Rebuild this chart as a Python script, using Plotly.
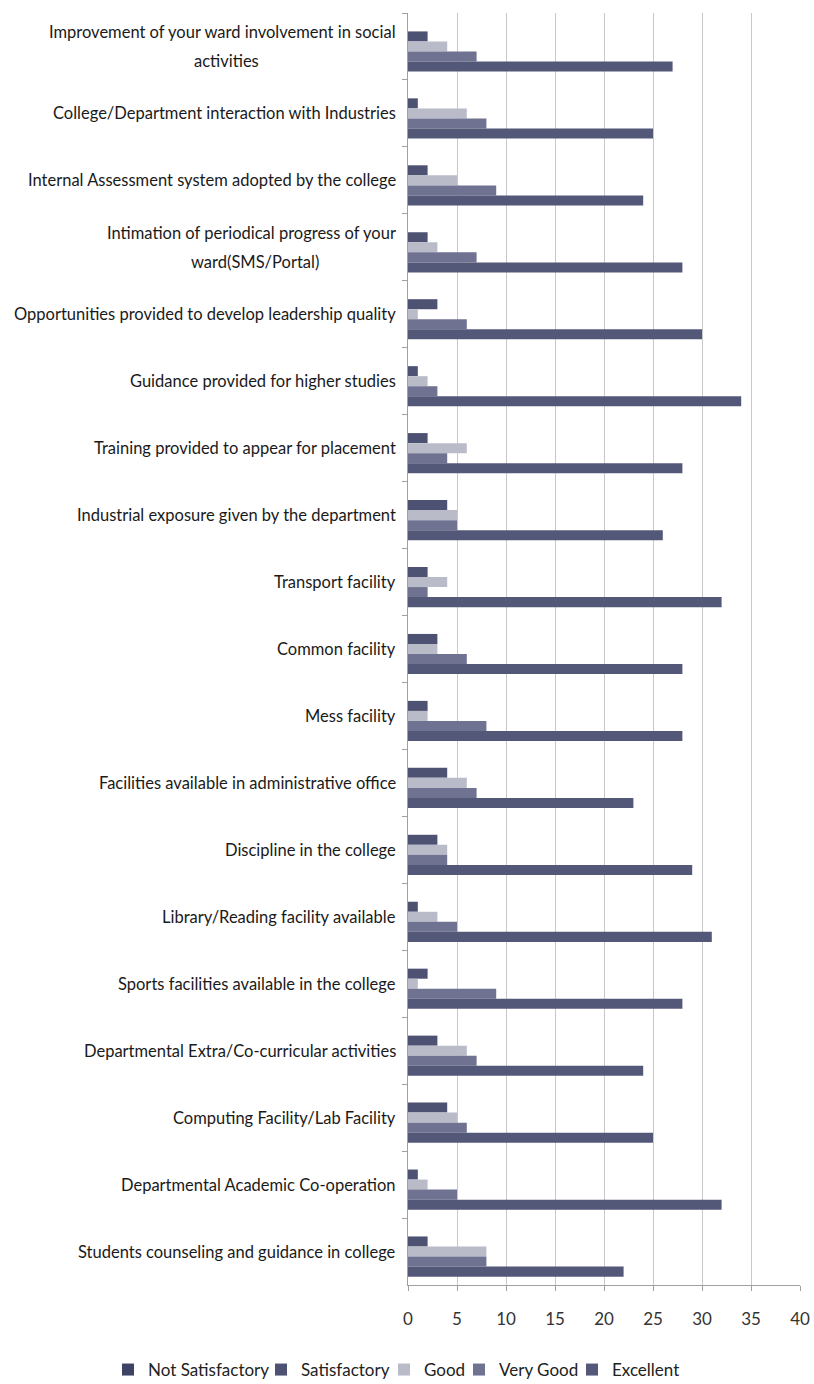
import plotly.graph_objects as go

categories = [
    "Improvement of your ward involvement in social<br>activities",
    "College/Department interaction with Industries",
    "Internal Assessment system adopted by the college",
    "Intimation of periodical progress of your<br>ward(SMS/Portal)",
    "Opportunities provided to develop leadership quality",
    "Guidance provided for higher studies",
    "Training provided to appear for placement",
    "Industrial exposure given by the department",
    "Transport facility",
    "Common facility",
    "Mess facility",
    "Facilities available in administrative office",
    "Discipline in the college",
    "Library/Reading facility available",
    "Sports facilities available in the college",
    "Departmental Extra/Co-curricular activities",
    "Computing Facility/Lab Facility",
    "Departmental Academic Co-operation",
    "Students counseling and guidance in college",
]

not_satisfactory = [0, 0, 0, 0, 0, 0, 0, 0, 0, 0, 0, 0, 0, 0, 0, 0, 0, 0, 0]
satisfactory     = [2, 1, 2, 2, 3, 1, 2, 4, 2, 3, 2, 4, 3, 1, 2, 3, 4, 1, 2]
good             = [4, 6, 5, 3, 1, 2, 6, 5, 4, 3, 2, 6, 4, 3, 1, 6, 5, 2, 8]
very_good        = [7, 8, 9, 7, 6, 3, 4, 5, 2, 6, 8, 7, 4, 5, 9, 7, 6, 5, 8]
excellent        = [27, 25, 24, 28, 30, 34, 28, 26, 32, 28, 28, 23, 29, 31, 28, 24, 25, 32, 22]

series_names = ["Not Satisfactory", "Satisfactory", "Good", "Very Good", "Excellent"]
series_values = [not_satisfactory, satisfactory, good, very_good, excellent]
series_colors = ["#3e4264", "#4d5172", "#b9bbc9", "#6f7290", "#545878"]

x_ticks = [0, 5, 10, 15, 20, 25, 30, 35, 40]

FONT = "Lato, Liberation Sans, sans-serif"
LABEL_SIZE = 16.5
LINE_GAP = 29

W, H = 814, 1384
ML, MR, MT, MB = 408, 14, 13, 99
plot_w = W - ML - MR
plot_h = H - MT - MB

fig = go.Figure()
legend_ids = ["legend", "legend2", "legend3", "legend4", "legend5"]
for name, vals, col, lid in zip(series_names, series_values, series_colors, legend_ids):
    fig.add_trace(go.Bar(
        y=categories, x=vals, name=name, orientation="h", legend=lid,
        marker=dict(color=col, line=dict(width=0)),
    ))

# category labels: wrapped lines, first line right-aligned to the axis,
# continuation lines centred under the first line (Excel style)
wrap_centre_shift = {0: -182, 3: -153}
for i, cat in enumerate(categories):
    lines = cat.split("<br>")
    n = len(lines)
    for j, line in enumerate(lines):
        ys = ((n - 1) / 2 - j) * LINE_GAP
        if j == 0:
            fig.add_annotation(
                x=0, xref="paper", y=cat, yref="y", text=line, showarrow=False,
                xanchor="right", yanchor="middle", xshift=-10, yshift=ys,
                font=dict(family=FONT, size=LABEL_SIZE, color="#1a1a1a"),
            )
        else:
            fig.add_annotation(
                x=0, xref="paper", y=cat, yref="y", text=line, showarrow=False,
                xanchor="center", yanchor="middle", xshift=wrap_centre_shift[i], yshift=ys,
                font=dict(family=FONT, size=LABEL_SIZE, color="#1a1a1a"),
            )

# one legend per series so each entry sits where the reference has it
legend_text_start_px = [153, 306, 429, 504, 617]
legend_y_px = 1370
legends = {}
for lid, tx in zip(legend_ids, legend_text_start_px):
    legends[lid] = dict(
        orientation="h", x=(tx - 45 - ML) / plot_w, xanchor="left",
        y=(MT + plot_h - legend_y_px) / plot_h, yanchor="middle",
        font=dict(family=FONT, size=17, color="#222"), itemwidth=30,
        bgcolor="rgba(0,0,0,0)",
    )

fig.update_layout(
    width=W, height=H,
    margin=dict(l=ML, r=MR, t=MT, b=MB, autoexpand=False),
    paper_bgcolor="white", plot_bgcolor="white",
    barmode="group", bargap=0.25, bargroupgap=0,
    font=dict(family=FONT, size=17, color="#222222"),
    showlegend=True,
    **legends,
)
fig.update_xaxes(
    range=[0, 40], tickvals=x_ticks, showgrid=True, gridcolor="#c8c8c8", gridwidth=1,
    zeroline=False, showline=True, linecolor="#a0a0a0", ticks="outside", ticklen=5,
    tickcolor="#a0a0a0", tickfont=dict(size=17, color="#333"), ticklabelstandoff=14,
)
fig.update_yaxes(
    type="category", categoryorder="array", categoryarray=categories,
    range=[len(categories) - 0.5, -0.5], showticklabels=False, showline=True,
    linecolor="#a0a0a0", ticks="outside", ticklen=5, tickcolor="#a0a0a0",
    tickson="boundaries", showgrid=False,
)

fig.write_html(
    "out.html",
    config={"displayModeBar": False},
    post_script=(
        "document.body.style.margin='0';"
        "document.body.style.overflow='hidden';"
        "document.documentElement.style.overflow='hidden';"
    ),
)
